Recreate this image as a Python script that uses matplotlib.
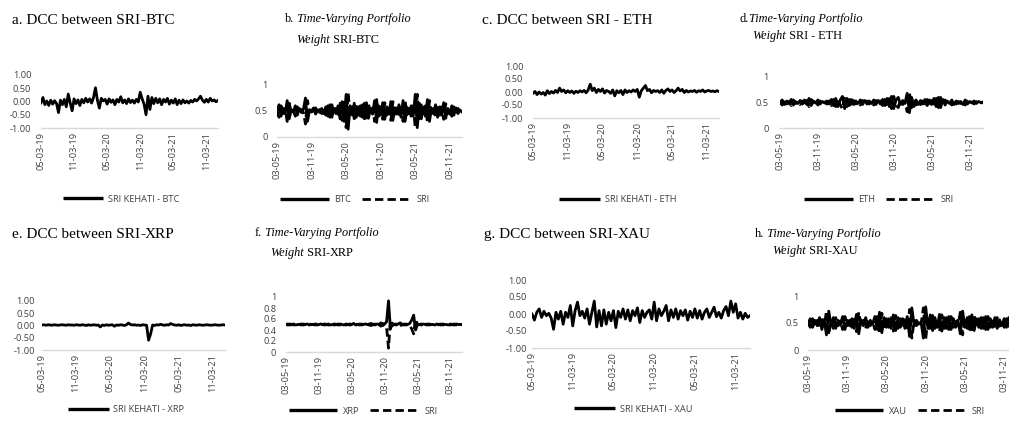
import numpy as np
import matplotlib.pyplot as plt
from matplotlib.lines import Line2D

# ---- data (one value per ~week) ----
dcc_dates = ['05-03-19', '11-03-19', '05-03-20', '11-03-20', '05-03-21', '11-03-21']
w_dates = ['03-05-19', '03-11-19', '03-05-20', '03-11-20', '03-05-21', '03-11-21']

dcc_btc = [
    -0.05, 0.15, -0.12, 0.02, -0.15, 0.05, -0.10, 0.03, -0.08, -0.42,
    0.05, -0.12, 0.08, -0.20, 0.28, -0.05, -0.35, 0.10, -0.08, 0.06,
    -0.15, 0.08, -0.05, 0.12, -0.02, 0.10, -0.06, 0.15, 0.52, 0.05,
    -0.25, 0.12, 0.02, 0.08, -0.10, 0.10, -0.03, 0.06, -0.12, 0.08,
    -0.02, 0.18, -0.05, 0.06, -0.08, 0.10, -0.04, 0.05, -0.06, 0.08,
    -0.02, 0.35, 0.10, -0.10, -0.50, 0.20, -0.30, 0.15, -0.08, 0.12,
    -0.05, 0.10, -0.12, 0.08, -0.02, 0.12, -0.10, 0.05, -0.06, 0.10,
    -0.12, 0.05, -0.08, 0.06, -0.05, 0.02, -0.06, 0.04, -0.02, 0.08,
    0.02, 0.10, 0.20, 0.05, -0.03, 0.08, -0.02, 0.12, 0.02, 0.06,
    -0.01, 0.04]

w_btc = [
    0.50, 0.62, 0.40, 0.55, 0.45, 0.70, 0.35, 0.52, 0.48, 0.60,
    0.42, 0.55, 0.47, 0.53, 0.75, 0.30, 0.52, 0.48, 0.56, 0.44,
    0.52, 0.47, 0.55, 0.45, 0.58, 0.40, 0.62, 0.38, 0.55, 0.45,
    0.60, 0.35, 0.68, 0.30, 0.82, 0.15, 0.60, 0.42, 0.65, 0.38,
    0.58, 0.40, 0.62, 0.35, 0.66, 0.36, 0.55, 0.44, 0.70, 0.28,
    0.60, 0.42, 0.66, 0.34, 0.58, 0.45, 0.68, 0.32, 0.56, 0.44,
    0.62, 0.38, 0.70, 0.30, 0.57, 0.45, 0.60, 0.40, 0.82, 0.18,
    0.65, 0.35, 0.58, 0.40, 0.72, 0.30, 0.55, 0.45, 0.62, 0.38,
    0.58, 0.42, 0.66, 0.36, 0.55, 0.44, 0.60, 0.42, 0.56, 0.45,
    0.52, 0.48]
w_sri_btc = [
    0.50, 0.38, 0.60, 0.45, 0.55, 0.30, 0.65, 0.48, 0.52, 0.40,
    0.58, 0.45, 0.53, 0.47, 0.25, 0.70, 0.48, 0.52, 0.44, 0.56,
    0.48, 0.53, 0.45, 0.55, 0.42, 0.60, 0.38, 0.62, 0.45, 0.55,
    0.40, 0.65, 0.32, 0.70, 0.18, 0.85, 0.40, 0.58, 0.35, 0.62,
    0.42, 0.60, 0.38, 0.65, 0.34, 0.64, 0.45, 0.56, 0.30, 0.72,
    0.40, 0.58, 0.34, 0.66, 0.42, 0.55, 0.32, 0.68, 0.44, 0.56,
    0.38, 0.62, 0.30, 0.70, 0.43, 0.55, 0.40, 0.60, 0.18, 0.82,
    0.35, 0.65, 0.42, 0.60, 0.28, 0.70, 0.45, 0.55, 0.38, 0.62,
    0.42, 0.58, 0.34, 0.64, 0.45, 0.56, 0.40, 0.58, 0.44, 0.55,
    0.48, 0.52]

dcc_eth = [
    -0.05, 0.02, -0.10, 0.00, -0.08, -0.02, -0.12, 0.05, -0.06, 0.02,
    -0.04, 0.06, -0.02, 0.15, 0.02, 0.08, -0.03, 0.05, -0.02, 0.04,
    -0.05, 0.03, -0.02, 0.05, 0.00, 0.06, -0.03, 0.08, 0.30, 0.05,
    0.15, -0.02, 0.10, 0.02, 0.12, -0.04, 0.06, 0.02, -0.05, 0.08,
    -0.15, 0.05, -0.03, 0.06, -0.10, 0.08, -0.02, 0.05, 0.00, 0.08,
    0.02, 0.10, -0.20, 0.05, 0.15, 0.25, 0.05, 0.10, -0.03, 0.06,
    0.02, 0.05, -0.02, 0.08, -0.05, 0.06, 0.12, 0.02, 0.08, -0.02,
    0.05, 0.15, 0.04, 0.10, -0.02, 0.06, 0.00, 0.04, 0.02, 0.06,
    -0.01, 0.05, 0.02, 0.08, 0.00, 0.04, 0.06, 0.02, 0.04, 0.01,
    0.05, 0.02]

w_eth = [
    0.50, 0.55, 0.46, 0.53, 0.48, 0.56, 0.45, 0.52, 0.48, 0.54,
    0.47, 0.55, 0.46, 0.58, 0.44, 0.53, 0.49, 0.55, 0.47, 0.52,
    0.49, 0.53, 0.47, 0.56, 0.44, 0.58, 0.42, 0.55, 0.62, 0.38,
    0.58, 0.44, 0.56, 0.46, 0.53, 0.48, 0.55, 0.46, 0.54, 0.47,
    0.53, 0.48, 0.55, 0.46, 0.54, 0.47, 0.56, 0.44, 0.58, 0.42,
    0.62, 0.38, 0.55, 0.60, 0.46, 0.54, 0.48, 0.68, 0.30, 0.60,
    0.42, 0.55, 0.46, 0.54, 0.47, 0.56, 0.44, 0.55, 0.46, 0.58,
    0.42, 0.60, 0.40, 0.56, 0.45, 0.53, 0.48, 0.55, 0.46, 0.53,
    0.48, 0.52, 0.46, 0.55, 0.47, 0.52, 0.49, 0.53, 0.48, 0.52,
    0.50, 0.51]
w_sri_eth = [
    0.50, 0.45, 0.54, 0.47, 0.52, 0.44, 0.55, 0.48, 0.52, 0.46,
    0.53, 0.45, 0.54, 0.42, 0.56, 0.47, 0.51, 0.45, 0.53, 0.48,
    0.51, 0.47, 0.53, 0.44, 0.56, 0.42, 0.58, 0.45, 0.38, 0.62,
    0.42, 0.56, 0.44, 0.54, 0.47, 0.52, 0.45, 0.54, 0.46, 0.53,
    0.47, 0.52, 0.45, 0.54, 0.46, 0.53, 0.44, 0.56, 0.42, 0.58,
    0.38, 0.62, 0.45, 0.40, 0.54, 0.46, 0.52, 0.32, 0.70, 0.40,
    0.58, 0.45, 0.54, 0.46, 0.53, 0.44, 0.56, 0.45, 0.54, 0.42,
    0.58, 0.40, 0.60, 0.44, 0.55, 0.47, 0.52, 0.45, 0.54, 0.47,
    0.52, 0.48, 0.54, 0.45, 0.53, 0.48, 0.51, 0.47, 0.52, 0.48,
    0.50, 0.49]

dcc_xrp = [
    0.02, 0.03, 0.01, 0.03, 0.02, 0.01, 0.03, 0.02, 0.01, 0.02,
    0.03, 0.02, 0.01, 0.03, 0.02, 0.02, 0.01, 0.03, 0.02, 0.01,
    0.03, 0.02, 0.00, 0.03, 0.01, 0.02, 0.03, 0.01, 0.02, -0.06,
    0.02, 0.00, 0.03, 0.01, 0.02, 0.03, -0.03, 0.02, 0.01, 0.03,
    0.02, 0.00, 0.03, 0.10, 0.04, 0.02, 0.03, 0.01, 0.02, 0.00,
    0.03, 0.02, 0.01, -0.60, -0.35, 0.02, 0.00, 0.03, 0.02, 0.05,
    0.02, 0.01, 0.03, 0.02, 0.08, 0.04, 0.02, 0.01, 0.03, 0.00,
    0.02, 0.03, 0.01, 0.02, 0.00, 0.03, 0.02, 0.01, 0.03, 0.02,
    0.01, 0.02, 0.03, 0.02, 0.01, 0.02, 0.03, 0.02, 0.01, 0.02,
    0.03, 0.02]

w_xrp = [
    0.50, 0.51, 0.49, 0.50, 0.51, 0.49, 0.50, 0.50, 0.51, 0.49,
    0.50, 0.51, 0.49, 0.50, 0.50, 0.51, 0.49, 0.50, 0.51, 0.50,
    0.49, 0.50, 0.51, 0.49, 0.50, 0.51, 0.50, 0.49, 0.51, 0.50,
    0.49, 0.51, 0.50, 0.49, 0.50, 0.52, 0.49, 0.50, 0.51, 0.49,
    0.50, 0.51, 0.50, 0.49, 0.52, 0.50, 0.49, 0.51, 0.50, 0.53,
    0.48, 0.51, 0.55, 0.93, 0.42, 0.52, 0.50, 0.49, 0.51, 0.53,
    0.50, 0.49, 0.51, 0.50, 0.52, 0.58, 0.67, 0.40, 0.51, 0.50,
    0.49, 0.51, 0.50, 0.49, 0.51, 0.50, 0.50, 0.49, 0.51, 0.50,
    0.49, 0.51, 0.50, 0.50, 0.49, 0.51, 0.50, 0.49, 0.51, 0.50,
    0.50, 0.50]
w_sri_xrp = [
    0.50, 0.49, 0.51, 0.50, 0.49, 0.51, 0.50, 0.50, 0.49, 0.51,
    0.50, 0.49, 0.51, 0.50, 0.50, 0.49, 0.51, 0.50, 0.49, 0.50,
    0.51, 0.50, 0.49, 0.51, 0.50, 0.49, 0.50, 0.51, 0.49, 0.50,
    0.51, 0.49, 0.50, 0.51, 0.50, 0.48, 0.51, 0.50, 0.49, 0.51,
    0.50, 0.49, 0.50, 0.51, 0.48, 0.50, 0.51, 0.49, 0.50, 0.47,
    0.52, 0.49, 0.45, 0.07, 0.58, 0.48, 0.50, 0.51, 0.49, 0.47,
    0.50, 0.51, 0.49, 0.50, 0.48, 0.42, 0.33, 0.60, 0.49, 0.50,
    0.51, 0.49, 0.50, 0.51, 0.49, 0.50, 0.50, 0.51, 0.49, 0.50,
    0.51, 0.49, 0.50, 0.50, 0.51, 0.49, 0.50, 0.51, 0.49, 0.50,
    0.50, 0.50]

dcc_xau = [
    0.00, -0.18, 0.05, 0.15, -0.10, 0.08, -0.05, 0.02, -0.12, -0.45,
    0.05, -0.15, 0.08, -0.30, 0.05, -0.10, 0.25, -0.35, 0.10, 0.35,
    -0.05, 0.08, -0.12, 0.15, -0.30, 0.05, 0.38, -0.38, 0.10, -0.35,
    0.12, -0.30, 0.05, -0.20, 0.10, -0.40, 0.08, -0.10, 0.15, -0.15,
    0.12, -0.20, 0.10, -0.05, 0.18, -0.25, 0.10, -0.10, 0.05, 0.12,
    -0.15, 0.35, -0.20, 0.15, -0.05, 0.08, 0.25, -0.20, 0.12, -0.10,
    0.15, -0.15, 0.10, -0.05, 0.12, -0.18, 0.08, -0.10, 0.15, -0.12,
    0.10, -0.15, 0.05, 0.15, -0.10, 0.05, 0.20, -0.08, 0.05, -0.12,
    0.10, 0.22, -0.05, 0.38, 0.05, 0.30, -0.12, 0.05, -0.15, 0.02,
    -0.10, -0.05]

w_xau = [
    0.50, 0.58, 0.42, 0.55, 0.45, 0.60, 0.38, 0.56, 0.28, 0.72,
    0.45, 0.60, 0.40, 0.55, 0.46, 0.62, 0.38, 0.55, 0.45, 0.58,
    0.40, 0.66, 0.30, 0.56, 0.45, 0.60, 0.42, 0.55, 0.48, 0.62,
    0.38, 0.70, 0.32, 0.60, 0.42, 0.58, 0.40, 0.65, 0.36, 0.60,
    0.42, 0.58, 0.40, 0.62, 0.25, 0.78, 0.45, 0.55, 0.48, 0.52,
    0.22, 0.80, 0.40, 0.65, 0.36, 0.60, 0.42, 0.66, 0.35, 0.60,
    0.40, 0.62, 0.38, 0.58, 0.42, 0.55, 0.30, 0.72, 0.42, 0.60,
    0.38, 0.65, 0.36, 0.58, 0.42, 0.60, 0.40, 0.62, 0.38, 0.58,
    0.42, 0.60, 0.40, 0.56, 0.45, 0.58, 0.42, 0.60, 0.44, 0.56,
    0.46, 0.54]
w_sri_xau = [
    0.50, 0.42, 0.58, 0.45, 0.55, 0.40, 0.62, 0.44, 0.72, 0.28,
    0.55, 0.40, 0.60, 0.45, 0.54, 0.38, 0.62, 0.45, 0.55, 0.42,
    0.60, 0.34, 0.70, 0.44, 0.55, 0.40, 0.58, 0.45, 0.52, 0.38,
    0.62, 0.30, 0.68, 0.40, 0.58, 0.42, 0.60, 0.35, 0.64, 0.40,
    0.58, 0.42, 0.60, 0.38, 0.75, 0.22, 0.55, 0.45, 0.52, 0.48,
    0.78, 0.20, 0.60, 0.35, 0.64, 0.40, 0.58, 0.34, 0.65, 0.40,
    0.60, 0.38, 0.62, 0.42, 0.58, 0.45, 0.70, 0.28, 0.58, 0.40,
    0.62, 0.35, 0.64, 0.42, 0.58, 0.40, 0.60, 0.38, 0.62, 0.42,
    0.58, 0.40, 0.60, 0.44, 0.55, 0.42, 0.58, 0.40, 0.56, 0.44,
    0.54, 0.46]

# ---- layout ----
W, H = 1009, 425
fig = plt.figure(figsize=(W / 100, H / 100), dpi=100)

FS = 6.7
TICKFONT = dict(family='Open Sans', size=FS)
SERIF = 'Liberation Serif'
GRAY = '#404040'
LW = 2.0


def box(x0, x1, ytop, ybot):
    return [x0 / W, 1 - ybot / H, (x1 - x0) / W, (ybot - ytop) / H]


def rich(ax, x, y, parts, size):
    # chain text pieces so italic/bold runs sit on one baseline
    t = None
    for txt, style, weight in parts:
        if t is None:
            t = fig.text(x / W, 1 - y / H, txt, fontsize=size, family=SERIF,
                         style=style, weight=weight, va='baseline', ha='left')
        else:
            t = ax.annotate(txt, xy=(1, 0), xycoords=t, va='bottom', ha='left',
                            fontsize=size, family=SERIF, style=style,
                            weight=weight, annotation_clip=False)


def base_axes(rect, dates, pad):
    ax = fig.add_axes(rect)
    for s in ['top', 'right', 'left']:
        ax.spines[s].set_visible(False)
    ax.spines['bottom'].set_color('#d9d9d9')
    ax.spines['bottom'].set_linewidth(1.0)
    ax.set_xlim(0, 91)
    ax.set_xticks([0, 17, 34, 51, 68, 85])
    ax.set_xticklabels(dates, rotation=90, fontdict=TICKFONT, color=GRAY)
    ax.tick_params(length=0)
    ax.tick_params(axis='x', pad=3)
    ax.tick_params(axis='y', pad=pad)
    return ax


def dcc_panel(rect, vals, name, pad, leg_xy):
    ax = base_axes(rect, dcc_dates, pad)
    x = np.arange(len(vals))
    ax.plot(x, vals, color='black', lw=LW)
    ax.set_ylim(-1, 1)
    ax.set_yticks([-1, -0.5, 0, 0.5, 1])
    ax.set_yticklabels(['-1.00', '-0.50', '0.00', '0.50', '1.00'],
                       fontdict=TICKFONT, color=GRAY)
    h = [Line2D([], [], color='black', lw=2.4, solid_capstyle='butt')]
    fig.legend(h, [name], loc='center', frameon=False,
               bbox_to_anchor=(leg_xy[0] / W, 1 - leg_xy[1] / H),
               prop=dict(family='Open Sans', size=FS), handlelength=4.4,
               handletextpad=0.5, labelcolor=GRAY)
    return ax


def weight_panel(rect, asset, vals, sri, pad, leg_xy, fine=False):
    ax = base_axes(rect, w_dates, pad)
    x = np.arange(len(vals))
    ax.plot(x, sri, color='black', lw=LW, ls=(0, (3, 1.5)))
    ax.plot(x, vals, color='black', lw=LW)
    ax.set_ylim(0, 1)
    if fine:
        ax.set_yticks([0, 0.2, 0.4, 0.6, 0.8, 1])
        ax.set_yticklabels(['0', '0.2', '0.4', '0.6', '0.8', '1'],
                           fontdict=TICKFONT, color=GRAY)
    else:
        ax.set_yticks([0, 0.5, 1])
        ax.set_yticklabels(['0', '0.5', '1'], fontdict=TICKFONT, color=GRAY)
    h = [Line2D([], [], color='black', lw=2.4, solid_capstyle='butt'),
         Line2D([], [], color='black', lw=2.0, ls=(0, (3, 1.5)))]
    fig.legend(h, [asset, 'SRI'], loc='center', frameon=False, ncol=2,
               bbox_to_anchor=(leg_xy[0] / W, 1 - leg_xy[1] / H),
               prop=dict(family='Open Sans', size=FS), handlelength=5.2,
               handletextpad=0.6, columnspacing=1.2, labelcolor=GRAY)
    return ax


n, it, bd = 'normal', 'italic', 'bold'

ax_a = dcc_panel(box(41, 218, 75, 128), dcc_btc, 'SRI KEHATI - BTC', 7, (121, 199))
rich(ax_a, 12, 24, [('a. DCC between SRI', n, n), ('-', n, bd), ('BTC', n, n)], 11)

ax_b = weight_panel(box(277, 462, 85, 137), 'BTC', w_btc, w_sri_btc, 6.5, (355, 200))
rich(ax_b, 285, 22, [('b.', n, n), (' Time-Varying Portfolio', it, n)], 8.8)
rich(ax_b, 296, 43, [('Weight', it, n), (' SRI', n, n), ('-', n, bd), ('BTC', n, n)], 8.8)

ax_c = dcc_panel(box(533, 719, 66, 118), dcc_eth, 'SRI KEHATI - ETH', 7, (618, 200))
rich(ax_c, 482, 24, [('c. DCC between SRI', n, n), (' -', n, bd), (' ETH', n, n)], 11)

ax_d = weight_panel(box(780, 983, 77, 128), 'ETH', w_eth, w_sri_eth, 8, (879, 200))
rich(ax_d, 740, 22, [('d.', n, n), ('Time-Varying Portfolio', it, n)], 8.8)
rich(ax_d, 752, 39, [('Weight', it, n), (' SRI', n, n), (' -', n, bd), (' ETH', n, n)], 8.8)

ax_e = dcc_panel(box(42, 225, 301, 350), dcc_xrp, 'SRI KEHATI - XRP', 5, (126, 410))
rich(ax_e, 12, 238, [('e. DCC between SRI', n, n), ('-', n, bd), ('XRP', n, n)], 11)

ax_f = weight_panel(box(286, 462, 297, 352), 'XRP', w_xrp, w_sri_xrp, 7, (363, 411), fine=True)
rich(ax_f, 255, 236, [('f.', n, n), (' Time-Varying Portfolio', it, n)], 8.8)
rich(ax_f, 270, 256, [('Weight', it, n), (' SRI', n, n), ('-', n, bd), ('XRP', n, n)], 8.8)

ax_g = dcc_panel(box(532, 750, 280, 348), dcc_xau, 'SRI KEHATI - XAU', 3.6, (633, 409))
rich(ax_g, 484, 238, [('g. DCC between SRI', n, n), ('-', n, bd), ('XAU', n, n)], 11)

ax_h = weight_panel(box(808, 1018, 296, 350), 'XAU', w_xau, w_sri_xau, 6.5, (910, 411))
rich(ax_h, 755, 237, [('h.', n, n), (' Time-Varying Portfolio', it, n)], 8.8)
rich(ax_h, 772, 254, [('Weight', it, n), (' SRI', n, n), ('-', n, bd), ('XAU', n, n)], 8.8)

fig.savefig('out.png', dpi=100)
